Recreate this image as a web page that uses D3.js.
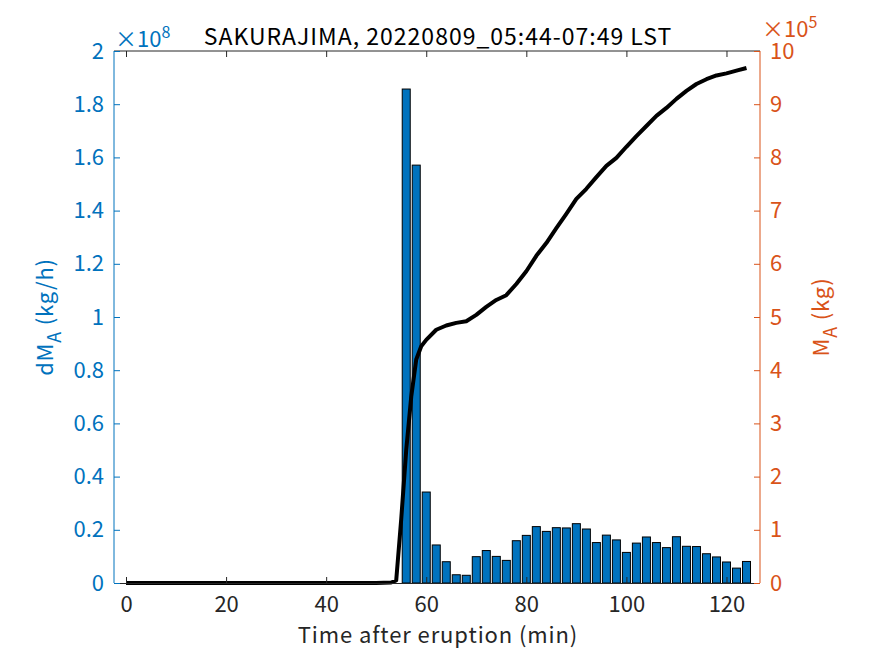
<!DOCTYPE html>
<html><head><meta charset="utf-8">
<script src="https://cdn.jsdelivr.net/npm/d3@7"></script>
<style>body{margin:0;background:#fff}svg{display:block}</style>
</head><body>
<svg id="c" width="875" height="656"></svg>
<script>
// Data
const barTimes = [56,58,60,62,64,66,68,70,72,74,76,78,80,82,84,86,88,90,92,94,96,98,100,102,104,106,108,110,112,114,116,118,120,122,124];
const dMA = [1.857,1.571,0.342,0.143,0.080,0.031,0.029,0.099,0.122,0.100,0.085,0.159,0.179,0.212,0.194,0.208,0.207,0.223,0.203,0.152,0.180,0.162,0.115,0.150,0.173,0.152,0.133,0.174,0.138,0.137,0.110,0.098,0.079,0.056,0.081]; // x1e8 kg/h
const lineTimes = [0,10,20,30,40,50,53,54,55,56,57,58,59,60,62,64,66,68,70,72,74,76,78,80,82,84,86,88,90,92,94,96,98,100,102,104,106,108,110,112,114,116,118,120,122,124];
const MA = [0,0,0,0,0,0,0.01,0.05,1.2,2.5,3.5,4.2,4.45,4.57,4.76,4.84,4.89,4.92,5.04,5.19,5.32,5.41,5.62,5.86,6.15,6.39,6.67,6.94,7.22,7.41,7.63,7.84,7.99,8.2,8.4,8.59,8.78,8.93,9.1,9.25,9.38,9.47,9.54,9.58,9.63,9.68]; // x1e5 kg
const xTicks = [0,20,40,60,80,100,120];
const yLeftTicks = [0,0.2,0.4,0.6,0.8,1,1.2,1.4,1.6,1.8,2];
const yRightTicks = [0,1,2,3,4,5,6,7,8,9,10];
const titleText = "SAKURAJIMA, 20220809_05:44-07:49 LST";

const blue = "#0072BD", orange = "#D95319", dark = "#262626";
const font = "'Noto Sans CJK JP', 'Noto Sans', sans-serif";
const L = 114, R = 760, T = 51, B = 583;
const svg = d3.select("#c");
const x = d3.scaleLinear().domain([-2.4, 126.7]).range([L, R]);
const yL = d3.scaleLinear().domain([0, 2]).range([B, T]);
const yR = d3.scaleLinear().domain([0, 10]).range([B, T]);

// bars
const bw = x(1.6) - x(0);
svg.append("g").selectAll("rect").data(barTimes).join("rect")
  .attr("x", (d) => x(d) - bw/2).attr("width", bw)
  .attr("y", (d,i) => yL(dMA[i])).attr("height", (d,i) => B - yL(dMA[i]))
  .attr("fill", blue).attr("stroke", "#000").attr("stroke-width", 1);

// line
const line = d3.line().x((d,i) => x(lineTimes[i])).y(d => yR(d));
svg.append("path").datum(MA).attr("d", line).attr("fill","none")
  .attr("stroke","#000").attr("stroke-width",4).attr("stroke-linejoin","round");

// axes
const tl = 6;
const tickFont = "22px";
const gx = svg.append("g").attr("transform",`translate(0,${B})`)
  .call(d3.axisBottom(x).tickValues(xTicks).tickSize(-tl).tickPadding(13).tickFormat(d3.format("d")));
gx.select(".domain").attr("stroke", dark).attr("d", `M${L},0.5H${R}`);
gx.selectAll(".tick line").attr("stroke", dark);
gx.selectAll("text").attr("fill", dark).style("font-family", font).style("font-size",tickFont);

const gxt = svg.append("g").attr("transform",`translate(0,${T})`)
  .call(d3.axisTop(x).tickValues(xTicks).tickSize(-tl).tickFormat(""));
gxt.select(".domain").attr("stroke", dark).attr("d", `M${L},0H${R}`);
gxt.selectAll(".tick line").attr("stroke", dark);

const gl = svg.append("g").attr("transform",`translate(${L},0)`)
  .call(d3.axisLeft(yL).tickValues(yLeftTicks).tickSize(-tl).tickPadding(10).tickFormat(d3.format("~g")));
gl.select(".domain").attr("stroke", blue).attr("d", `M0,${T}V${B}`);
gl.selectAll(".tick line").attr("stroke", blue);
gl.selectAll("text").attr("fill", blue).style("font-family", font).style("font-size",tickFont);

const gr = svg.append("g").attr("transform",`translate(${R},0)`)
  .call(d3.axisRight(yR).tickValues(yRightTicks).tickSize(-tl).tickPadding(10).tickFormat(d3.format("d")));
gr.select(".domain").attr("stroke", orange).attr("d", `M0,${T}V${B}`);
gr.selectAll(".tick line").attr("stroke", orange);
gr.selectAll("text").attr("fill", orange).style("font-family", font).style("font-size",tickFont);

// exponents
function expo(xp, yp, color, e){
  const t = svg.append("text").attr("x", xp).attr("y", yp).attr("fill", color)
    .style("font-family", font).style("font-size","22px");
  t.append("tspan").text("×10");
  t.append("tspan").attr("dy",-9).style("font-size","16px").text(e);
}
expo(115, 47, blue, "8");
expo(762, 37, orange, "5");

// title
svg.append("text").attr("x", 438).attr("y", 45).attr("text-anchor","middle")
  .attr("fill","#000").style("font-family", font).style("font-size","23px")
  .style("letter-spacing","1px").text(titleText);

// x label
svg.append("text").attr("x", 438).attr("y", 643).attr("text-anchor","middle")
  .attr("fill", dark).style("font-family", font).style("font-size","22px")
  .style("letter-spacing","0.9px").text("Time after eruption (min)");

// y labels
function ylab(xp, color, main, rest){
  const t = svg.append("text").attr("transform",`translate(${xp},317) rotate(-90)`)
    .attr("text-anchor","middle").attr("fill", color).style("font-family", font).style("font-size","22px")
    .style("letter-spacing","0.8px");
  t.append("tspan").text(main);
  t.append("tspan").attr("dy",8).style("font-size","18px").text("A");
  t.append("tspan").attr("dy",-8).text(rest);
}
ylab(53, blue, "dM", " (kg/h)");
ylab(829, orange, "M", " (kg)");
</script>
</body></html>
